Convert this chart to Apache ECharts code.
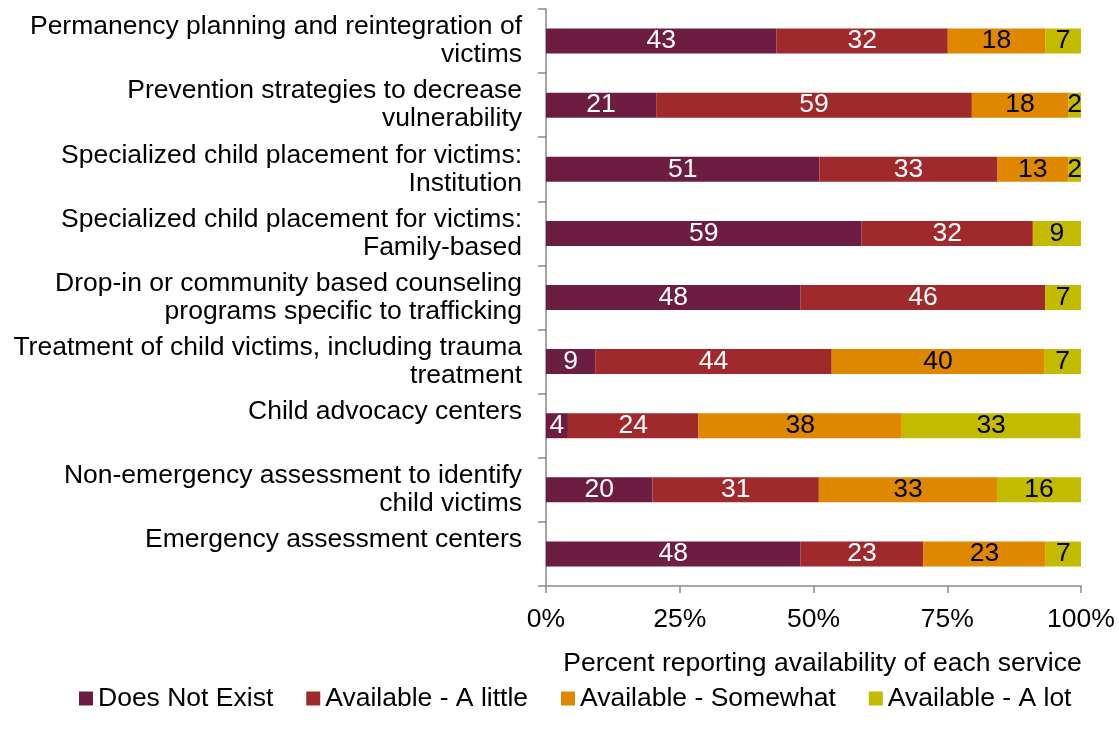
<!DOCTYPE html>
<html>
<head>
<meta charset="utf-8">
<script src="https://cdn.jsdelivr.net/npm/echarts@6/dist/echarts.min.js"></script>
<style>
html,body{margin:0;padding:0;background:#fff;}
#chart{width:1119px;height:740px;}
</style>
</head>
<body>
<div id="chart"></div>
<script>
const categories = [
  "Permanency planning and reintegration of\nvictims",
  "Prevention strategies to decrease\nvulnerability",
  "Specialized child placement for victims:\nInstitution",
  "Specialized child placement for victims:\nFamily-based",
  "Drop-in or community based counseling\nprograms specific to trafficking",
  "Treatment of child victims, including trauma\ntreatment",
  "Child advocacy centers\n ",
  "Non-emergency assessment to identify\nchild victims",
  "Emergency assessment centers\n "
];
const seriesNames = ["Does Not Exist", "Available - A little", "Available - Somewhat", "Available - A lot"];
const doesNotExist = [43.1, 20.6, 51.1, 59.0, 47.6, 9.2, 4.1, 19.9, 47.6];
const aLittle      = [32.0, 59.0, 33.3, 32.0, 45.7, 44.2, 24.4, 31.1, 22.9];
const somewhat     = [18.2, 18.0, 13.2, 0,    0,    39.7, 38.0, 33.3, 22.9];
const aLot         = [6.7,  2.4,  2.4,  9.0,  6.7,  6.9,  33.4, 15.7, 6.7];
const xTicks = [0, 25, 50, 75, 100];

const colors = ["#6D1C42", "#A0292C", "#E08700", "#C3BB00"];
const labelColors = ["#ffffff", "#ffffff", "#000000", "#000000"];
const FONT = "Liberation Sans, Arial, sans-serif";
const FS = 26.5;
const dataSets = [doesNotExist, aLittle, somewhat, aLot];

const chart = echarts.init(document.getElementById('chart'), null, {renderer: 'canvas'});
chart.setOption({
  animation: false,
  textStyle: {fontFamily: FONT},
  grid: {left: 546, right: 38, top: 9, bottom: 154, containLabel: false},
  legend: {
    bottom: 23,
    left: 74,
    icon: 'rect',
    itemWidth: 14,
    itemHeight: 14,
    itemGap: 33,
    textStyle: {fontFamily: FONT, fontSize: FS, color: '#000'},
    data: seriesNames
  },
  xAxis: {
    type: 'value',
    min: xTicks[0],
    max: xTicks[xTicks.length - 1],
    interval: 25,
    name: 'Percent reporting availability of each service',
    nameLocation: 'middle',
    nameGap: 64,
    nameTextStyle: {fontFamily: FONT, fontSize: FS, color: '#000', padding: [0, 0, 0, 18]},
    axisLine: {show: true, lineStyle: {color: '#898989', width: 1.5}},
    axisTick: {show: true, length: 7, lineStyle: {color: '#898989', width: 1.5}},
    axisLabel: {fontFamily: FONT, fontSize: FS, color: '#000', margin: 20, formatter: '{value}%'},
    splitLine: {show: false}
  },
  yAxis: {
    type: 'category',
    inverse: true,
    data: categories,
    boundaryGap: true,
    axisLine: {show: true, lineStyle: {color: '#898989', width: 1.5}},
    axisTick: {show: true, length: 8, interval: 0, inside: false, lineStyle: {color: '#898989', width: 1.5}},
    axisLabel: {fontFamily: FONT, fontSize: FS, color: '#000', margin: 24, lineHeight: 28, align: 'right', interval: 0}
  },
  series: seriesNames.map((name, i) => ({
    name: name,
    type: 'bar',
    stack: 'total',
    barWidth: 25,
    itemStyle: {color: colors[i]},
    label: {
      show: true,
      position: 'inside',
      fontFamily: FONT,
      fontSize: FS,
      color: labelColors[i],
      formatter: p => p.value > 0 ? String(Math.round(p.value)) : ''
    },
    data: dataSets[i]
  }))
});
</script>
</body>
</html>
